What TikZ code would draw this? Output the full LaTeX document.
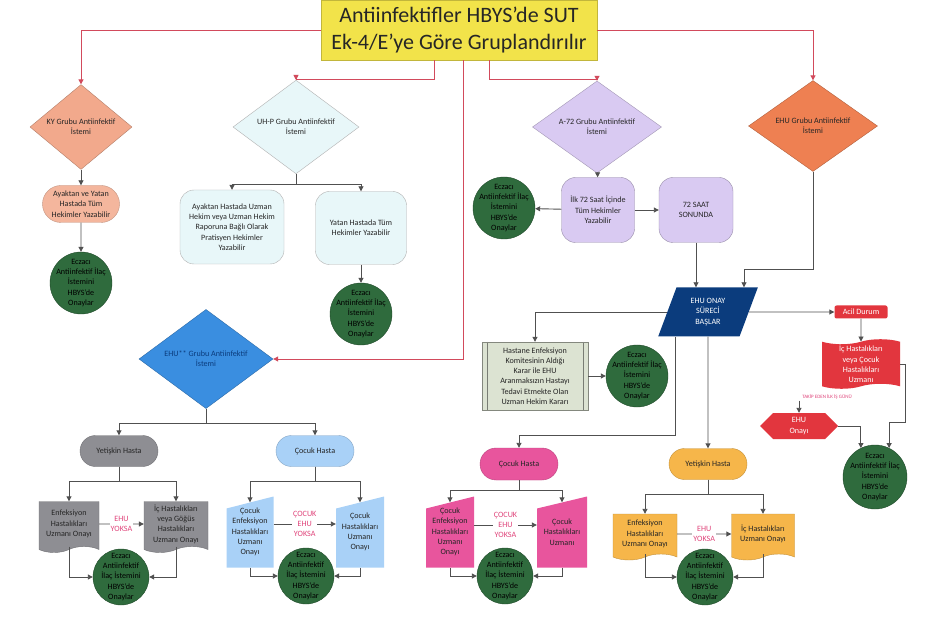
\documentclass[tikz,border=0pt]{standalone}
\usepackage{fontspec}
\setmainfont{Carlito}
\usetikzlibrary{shapes.geometric,shapes.misc,shapes.symbols,arrows.meta}
\definecolor{titleyellow}{HTML}{F2E34A}
\definecolor{kysalmon}{HTML}{F2A98C}
\definecolor{uhpcyan}{HTML}{E8F7F9}
\definecolor{a72lilac}{HTML}{D9CAF2}
\definecolor{ehuorange}{HTML}{EE8052}
\definecolor{ecgreen}{HTML}{2F6B3D}
\definecolor{ehunavy}{HTML}{0B3C7D}
\definecolor{hastgreen}{HTML}{DCE3D2}
\definecolor{acilred}{HTML}{E2363E}
\definecolor{ehublue}{HTML}{3A8EE0}
\definecolor{ygray}{HTML}{8E8E93}
\definecolor{cblue}{HTML}{A9D1F7}
\definecolor{cpink}{HTML}{E8559D}
\definecolor{yorange}{HTML}{F6B64A}
\definecolor{linegray}{HTML}{505050}
\definecolor{linered}{HTML}{D24A5C}
\definecolor{yoksapink}{HTML}{E0457B}
\newcommand{\headfont}{\fontsize{22}{27}\selectfont}
\newcommand{\boxfont}{\fontsize{8.1}{10.3}\selectfont}
\newcommand{\notefont}{\fontsize{5}{6}\selectfont}

\tikzset{
  box/.style={font=\boxfont, align=center, inner sep=1pt, text=black!85},
  choice/.style={box, diamond, inner sep=0pt, fill=#1, draw=#1!75!black},
  pill/.style={box, rounded rectangle, fill=#1, draw=#1!80!black, minimum width=80pt, minimum height=31pt},
  softbox/.style={box, rectangle, rounded corners=14pt, fill=#1, draw=#1!70!black},
  approve/.style={box, circle, fill=ecgreen, draw=ecgreen!70!black, minimum size=#1, inner sep=-10pt, text=black},
  approve/.default=62pt,
  docbox/.style={box, tape, tape bend top=none, tape bend height=6pt, fill=#1, draw=#1!80!black},
  maninbox/.style={box, minimum width=48pt, minimum height=71pt,
    path picture={\fill[#1] (path picture bounding box.south west) -- ([yshift=-12pt]path picture bounding box.north west)
      -- (path picture bounding box.north east) -- (path picture bounding box.south east) -- cycle;}},
  procbox/.style={box, rectangle, fill=hastgreen, draw=hastgreen!60!black, minimum width=106pt, minimum height=68pt,
    path picture={\draw[hastgreen!55!black] ([xshift=5pt]path picture bounding box.north west) -- ([xshift=5pt]path picture bounding box.south west)
      ([xshift=-5pt]path picture bounding box.north east) -- ([xshift=-5pt]path picture bounding box.south east);}},
  link/.style={draw=linegray, line width=0.9pt, -{Triangle[length=5pt,width=5pt]}},
  redlink/.style={draw=linered, line width=0.9pt, -{Triangle[length=5pt,width=5pt]}},
  yoksa/.style={font=\boxfont, text=yoksapink, fill=white, align=center, inner sep=1pt}
}

\begin{document}
\begin{tikzpicture}[x=1pt,y=-1pt]
\fill[white] (0,0) rectangle (930,631);
\useasboundingbox (0,0) rectangle (930,631);

% title
\node[box, font=\headfont, fill=titleyellow, draw=titleyellow!80!black, minimum width=276pt, minimum height=60pt, inner sep=2pt] (title) at (459,30)
  {Antiinfektifler HBYS’de SUT\\Ek-4/E’ye Göre Gruplandırılır};

% KY group
\node[choice=kysalmon, minimum width=102pt, minimum height=63pt] (ky) at (81,127) {KY Grubu Antiinfektif\\İstemi};
\node[pill=kysalmon!85!white, minimum width=79pt, minimum height=37pt] (kyp) at (81,204) {Ayaktan ve Yatan\\Hastada Tüm\\Hekimler Yazabilir};
\node[approve] (kyc) at (81,283) {Eczacı\\Antiinfektif İlaç\\İstemini\\HBYS’de\\Onaylar};

% UH-P group
\node[choice=uhpcyan, draw=gray!60, minimum width=126pt, minimum height=64pt] (uhp) at (296,127) {UH-P Grubu Antiinfektif\\İstemi};
\node[softbox=uhpcyan, draw=gray!60, minimum width=104pt, minimum height=74pt] (uhpa) at (232,227)
  {Ayaktan Hastada Uzman\\Hekim veya Uzman Hekim\\Raporuna Bağlı Olarak\\Pratisyen Hekimler\\Yazabilir};
\node[softbox=uhpcyan, draw=gray!60, minimum width=91pt, minimum height=73pt] (uhpb) at (361,228) {Yatan Hastada Tüm\\Hekimler Yazabilir};
\node[approve] (uhpc) at (361,314) {Eczacı\\Antiinfektif İlaç\\İstemini\\HBYS’de\\Onaylar};

% A-72 group
\node[choice=a72lilac, minimum width=129pt, minimum height=64pt] (a72) at (597,127) {A-72 Grubu Antiinfektif\\İstemi};
\node[softbox=a72lilac, minimum width=73pt, minimum height=65pt] (ilk) at (598,210) {İlk 72 Saat İçinde\\Tüm Hekimler\\Yazabilir};
\node[approve] (a72c) at (504,208) {Eczacı\\Antiinfektif İlaç\\İstemini\\HBYS’de\\Onaylar};
\node[softbox=a72lilac, minimum width=74pt, minimum height=65pt] (saat) at (696,210) {72 SAAT\\SONUNDA};

% EHU group
\node[choice=ehuorange, minimum width=129pt, minimum height=62pt] (ehu) at (813,126) {EHU Grubu Antiinfektif\\İstemi};
\node[box, trapezium, trapezium left angle=70, trapezium right angle=110, trapezium stretches=true,
      minimum width=100pt, minimum height=49pt, fill=ehunavy, text=white] (onay) at (708,312) {EHU ONAY\\SÜRECİ\\BAŞLAR};
\node[procbox] (hast) at (535,376)
  {Hastane Enfeksiyon\\Komitesinin Aldığı\\Karar ile EHU\\Aranmaksızın Hastayı\\Tedavi Etmekte Olan\\Uzman Hekim Kararı};
\node[approve] (hastc) at (637,376) {Eczacı\\Antiinfektif İlaç\\İstemini\\HBYS’de\\Onaylar};
\node[box, rounded corners=2pt, fill=acilred, text=white, minimum width=53pt, minimum height=13pt] (acil) at (861,312) {Acil Durum};
\node[box, tape, fill=acilred, text=white, tape bend height=5pt, minimum width=78pt, minimum height=43pt] (icr) at (861,364)
  {İç Hastalıkları\\veya Çocuk\\Hastalıkları\\Uzmanı};
\node[font=\notefont, text=yoksapink, inner sep=1pt] (takip) at (827,397) {TAKİP EDEN İLK İŞ GÜNÜ};
\node[box, signal, signal to=west and east, fill=acilred, text=white, minimum width=78pt, minimum height=26pt] (hex) at (799,426) {EHU\\Onayı};
\node[approve=64pt] (rc) at (875,477) {Eczacı\\Antiinfektif İlaç\\İstemini\\HBYS’de\\Onaylar};

% EHU** group
\node[choice=ehublue, text=ehunavy, minimum width=134pt, minimum height=74pt] (ehus) at (206,359) {EHU** Grubu Antiinfektif\\İstemi};
\node[pill=ygray] (gy) at (119,451) {Yetişkin Hasta};
\node[pill=cblue] (cb) at (315,451) {Çocuk Hasta};
\node[docbox=ygray, minimum width=60pt, minimum height=51pt] (genf) at (69,524) {Enfeksiyon\\Hastalıkları\\Uzmanı Onayı};
\node[docbox=ygray, minimum width=64pt, minimum height=51pt] (gic) at (176,524) {İç Hastalıkları\\veya Göğüs\\Hastalıkları\\Uzmanı Onayı};
\node[approve=56pt] (gc) at (121,577) {Eczacı\\Antiinfektif\\İlaç İstemini\\HBYS’de\\Onaylar};
\node[maninbox=cblue, minimum width=47pt] (cbenf) at (250,532) {Çocuk\\Enfeksiyon\\Hastalıkları\\Uzmanı\\Onayı};
\node[maninbox=cblue] (cbhu) at (360,532) {Çocuk\\Hastalıkları\\Uzmanı\\Onayı};
\node[approve=56pt] (cbc) at (306,576) {Eczacı\\Antiinfektif\\İlaç İstemini\\HBYS’de\\Onaylar};

% EHU onay children
\node[pill=cpink, minimum height=32pt] (pk) at (519,464) {Çocuk Hasta};
\node[maninbox=cpink] (pkenf) at (450,532) {Çocuk\\Enfeksiyon\\Hastalıkları\\Uzmanı\\Onayı};
\node[maninbox=cpink, minimum width=50pt] (pkhu) at (562,532) {Çocuk\\Hastalıkları\\Uzmanı};
\node[approve=56pt] (pkc) at (505,576) {Eczacı\\Antiinfektif\\İlaç İstemini\\HBYS’de\\Onaylar};
\node[pill=yorange] (yo) at (708,464) {Yetişkin Hasta};
\node[docbox=yorange, minimum width=64pt, minimum height=46pt] (oenf) at (645,534) {Enfeksiyon\\Hastalıkları\\Uzmanı Onayı};
\node[docbox=yorange, minimum width=63pt, minimum height=46pt] (oic) at (763,534) {İç Hastalıkları\\Uzmanı Onayı};
\node[approve=56pt] (oc) at (705,577) {Eczacı\\Antiinfektif\\İlaç İstemini\\HBYS’de\\Onaylar};

% red connectors from title
\draw[redlink] (title.west) -| (ky.north);
\draw[redlink] ([xshift=-25pt]title.south) -- ++(0,19) -| (uhp.north);
\draw[redlink] ([xshift=4pt]title.south) |- (ehus.east);
\draw[redlink] ([xshift=30pt]title.south) -- ++(0,19) -| (a72.north);
\draw[redlink] (title.east) -| (ehu.north);

% gray connectors
\draw[link] (ky) -- (kyp);
\draw[link] (kyp) -- (kyc);
\draw[link] (uhp.south) -- ++(0,10) -| (uhpa.north);
\draw[link] (uhp.south) -- ++(0,10) -| (uhpb.north);
\draw[link] (uhpb) -- (uhpc);
\draw[link] (a72) -- (ilk);
\draw[link] (ilk) -- (a72c);
\draw[link] (ilk) -- (saat);
\draw[link] (saat.south) -- (saat.south |- onay.north);
\draw[link] (ehu.south) -- ++(0,98) -| ([xshift=36pt]onay.north);
\draw[link] (onay.west) -| (hast.north);
\draw[link] (hast) -- (hastc);
\draw[link] ([xshift=-33pt]onay.south) -- ++(0,99) -| (pk.north);
\draw[link] (onay.south) -- (yo.north);
\draw[link] (onay.east) -- (acil.west);
\draw[link] (acil) -- (icr);
\draw[link] (icr.east) -- ++(5,0) -- ++(0,58) -| (rc.64);
\draw[link] (hex.north |- takip.south) -- (hex.north);
\draw[link] (hex.east) -| (rc.116);

\draw[link] (ehus.south) -- ++(0,15) -| (gy.north);
\draw[link] (ehus.south) -- ++(0,15) -| (cb.north);
\draw[link] (gy.south) -- ++(0,15) -| (genf.north);
\draw[link] (gy.south) -- ++(0,15) -| (gic.north);
\draw[link] (genf) -- node[yoksa] {EHU\\YOKSA} (gic);
\draw[link] (genf.south) |- (gc);
\draw[link] (gic.south) |- (gc);
\draw[link] (cb.south) -- ++(0,15) -| ([yshift=-6pt]cbenf.north);
\draw[link] (cb.south) -- ++(0,15) -| ([yshift=-6pt]cbhu.north);
\draw[link] ([yshift=8pt]cbenf.east) -- node[yoksa] {ÇOCUK\\EHU\\YOKSA} ([yshift=8pt]cbhu.west);
\draw[link] (cbenf.south) |- (cbc);
\draw[link] (cbhu.south) |- (cbc);

\draw[link] (pk.south) -- ++(0,10) -| ([yshift=-6pt]pkenf.north);
\draw[link] (pk.south) -- ++(0,10) -| ([yshift=-6pt]pkhu.north);
\draw[link] ([yshift=7pt]pkenf.east) -- node[yoksa] {ÇOCUK\\EHU\\YOKSA} ([yshift=7pt]pkhu.west);
\draw[link] (pkenf.south) |- (pkc);
\draw[link] (pkhu.south) |- (pkc);
\draw[link] (yo.south) -- ++(0,15) -| (oenf.north);
\draw[link] (yo.south) -- ++(0,15) -| (oic.north);
\draw[link] (oenf) -- node[yoksa] {EHU\\YOKSA} (oic);
\draw[link] (oenf.south) |- (oc);
\draw[link] (oic.south) |- (oc);
\end{tikzpicture}
\end{document}
